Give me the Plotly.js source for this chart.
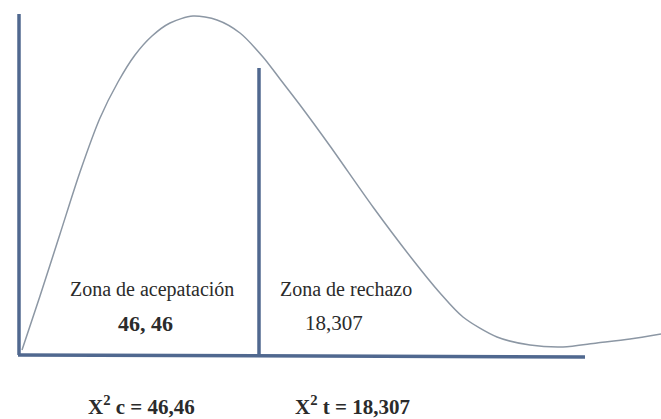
<!DOCTYPE html>
<html>
<head>
<meta charset="utf-8">
<script src="https://cdn.plot.ly/plotly-3.0.1.min.js"></script>
<style>html,body{margin:0;padding:0;background:#fff;}#chart{width:661px;height:419px;}</style>
</head>
<body>
<div id="chart"></div>
<script>
// Hand-drawn chi-square style curve (x, height)
const curveX = [22, 40, 60, 80, 100, 118, 135, 152, 170, 193, 217, 240, 263, 280, 300, 330, 373, 413, 440, 463, 497, 530, 563, 597, 630, 661];
const curveY = [69, 123, 185, 247, 301, 337, 364, 383, 396, 403, 399, 386, 362, 340, 314, 273, 212, 159, 126, 102, 82, 74, 72, 76, 80, 85];
// Axes and split line
const axisX = [19, 19, 18, 585];
const axisY = [405, 64, 64, 62];
const splitX = [259, 259];
const splitY = [351, 64];
// Labels
const labelText = ["Zona de acepatación", "<b>46, 46</b>", "Zona de rechazo", "18,307",
                   "<b>X<sup>2</sup> c = 46,46</b>", "<b>X<sup>2</sup> t = 18,307</b>"];
const labelX = [152, 145, 346, 334, 141, 352];
const labelY = [130, 96, 130, 96, 14, 14];
const labelSize = [20, 22, 20, 21, 21, 21];

const lineColor = "#50688f";
const traces = [
  {x: curveX, y: curveY, mode: "lines", line: {color: "#8c97a4", width: 1.5, shape: "spline", smoothing: 0.8}, hoverinfo: "skip"},
  {x: axisX.slice(0, 2), y: axisY.slice(0, 2), mode: "lines", line: {color: lineColor, width: 3.5}, hoverinfo: "skip"},
  {x: axisX.slice(2, 4), y: axisY.slice(2, 4), mode: "lines", line: {color: lineColor, width: 3.5}, hoverinfo: "skip"},
  {x: splitX, y: splitY, mode: "lines", line: {color: lineColor, width: 3.5}, hoverinfo: "skip"}
];
const annotations = labelText.map((t, i) => ({
  text: t, x: labelX[i], y: labelY[i], xref: "x", yref: "y",
  showarrow: false, xanchor: "center", yanchor: "middle",
  font: {family: "Liberation Serif, Times New Roman, serif", size: labelSize[i], color: "#2b2b2b"}
}));
const layout = {
  width: 661, height: 419,
  margin: {l: 0, r: 0, t: 0, b: 0},
  paper_bgcolor: "#ffffff", plot_bgcolor: "#ffffff",
  showlegend: false,
  xaxis: {range: [0, 661], visible: false, fixedrange: true},
  yaxis: {range: [0, 419], visible: false, fixedrange: true},
  annotations: annotations
};
Plotly.newPlot("chart", traces, layout, {displayModeBar: false, staticPlot: true});
</script>
</body>
</html>
